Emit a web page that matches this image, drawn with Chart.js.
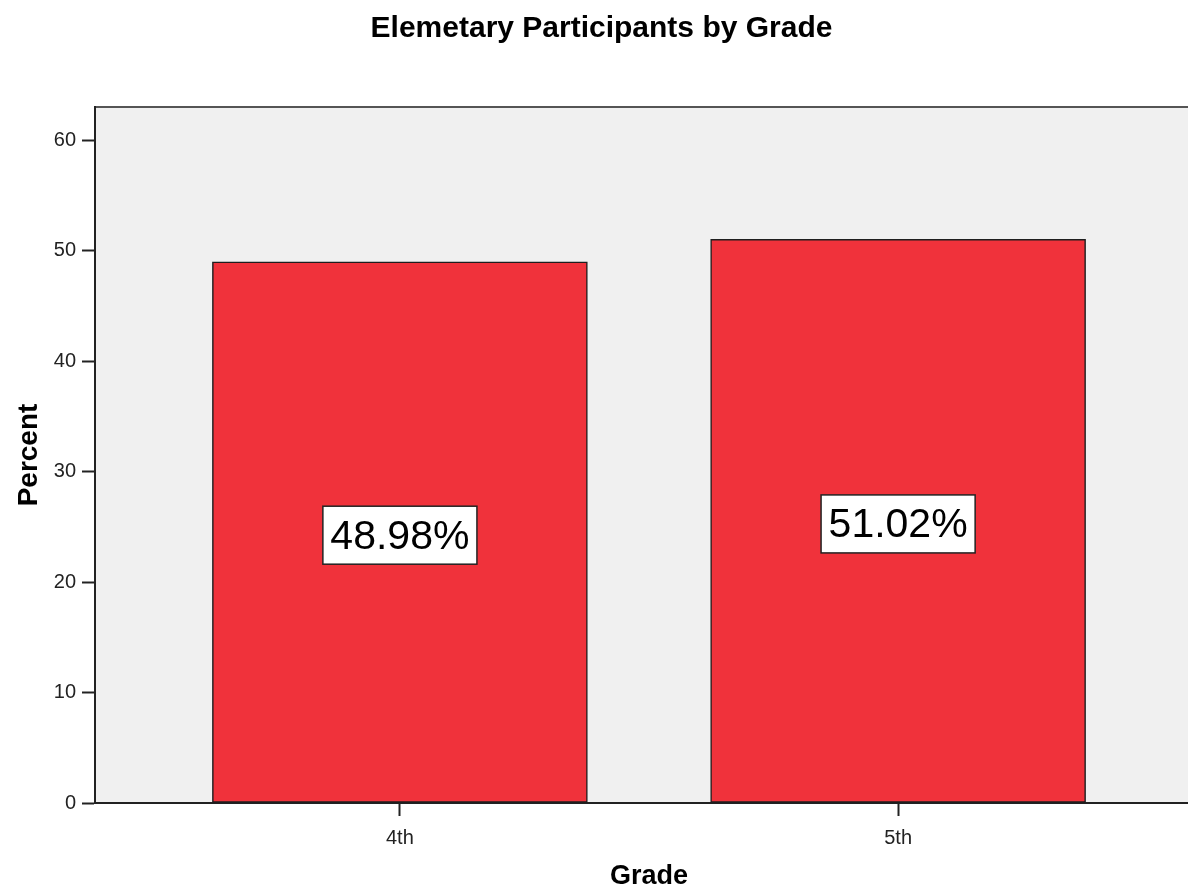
<!DOCTYPE html>
<html>
<head>
<meta charset="utf-8">
<title>Elemetary Participants by Grade</title>
<script src="https://cdn.jsdelivr.net/npm/chart.js@4"></script>
<style>
    html, body { margin: 0; padding: 0; background: #fff; overflow: hidden; }
    #chart { display: block; }
</style>
</head>
<body>
<canvas id="chart" width="1204" height="890"></canvas>
<script>
// Data
const grades = ['4th', '5th'];
const percents = [48.98, 51.02];
const yTicks = [0, 10, 20, 30, 40, 50, 60];

const FONT = '"Liberation Sans", Arial, sans-serif';

// Grey plot background with a top border, like the SPSS output
const plotBackground = {
    id: 'plotBackground',
    beforeDraw(chart) {
        const { ctx, chartArea } = chart;
        ctx.save();
        ctx.fillStyle = '#f0f0f0';
        ctx.fillRect(chartArea.left, chartArea.top, chartArea.right - chartArea.left, chartArea.bottom - chartArea.top);
        ctx.strokeStyle = '#555';
        ctx.lineWidth = 2;
        ctx.beginPath();
        ctx.moveTo(chartArea.left, chartArea.top);
        ctx.lineTo(chartArea.right, chartArea.top);
        ctx.lineTo(chartArea.right, chartArea.bottom);
        ctx.stroke();
        ctx.restore();
    }
};

// Boxed percentage labels in the middle of each bar
const barLabels = {
    id: 'barLabels',
    afterDatasetsDraw(chart) {
        const { ctx } = chart;
        const meta = chart.getDatasetMeta(0);
        ctx.save();
        ctx.font = '41px ' + FONT;
        ctx.textAlign = 'center';
        ctx.textBaseline = 'middle';
        meta.data.forEach((bar, i) => {
            const text = percents[i].toFixed(2) + '%';
            const w = ctx.measureText(text).width + 15;
            const h = 58;
            const cx = bar.x;
            const cy = (bar.y + bar.base) / 2 + 3;
            ctx.fillStyle = '#fff';
            ctx.fillRect(cx - w / 2, cy - h / 2, w, h);
            ctx.strokeStyle = '#222';
            ctx.lineWidth = 1.5;
            ctx.strokeRect(cx - w / 2, cy - h / 2, w, h);
            ctx.fillStyle = '#000';
            ctx.fillText(text, cx, cy + 2);
        });
        ctx.restore();
    }
};

const ctx = document.getElementById('chart').getContext('2d');
new Chart(ctx, {
    type: 'bar',
    data: {
        datasets: [{
            label: 'Percent',
            data: grades.map((g, i) => ({ x: i + 1, y: percents[i] })),
            backgroundColor: '#f0323b',
            borderColor: '#1e1e1e',
            borderWidth: 1.5,
            borderSkipped: false,
            barThickness: 375
        }]
    },
    options: {
        responsive: false,
        animation: false,
        layout: { padding: { left: 0, right: 1, top: 0, bottom: 0 } },
        plugins: {
            legend: { display: false },
            tooltip: { enabled: false },
            title: {
                display: true,
                text: 'Elemetary Participants by Grade',
                color: '#000',
                font: { family: FONT, size: 30, weight: 'bold' },
                padding: { top: 11, bottom: 60 }
            }
        },
        scales: {
            x: {
                type: 'linear',
                min: 0.388,
                max: 2.612,
                offset: false,
                afterBuildTicks(scale) {
                    scale.ticks = grades.map((g, i) => ({ value: i + 1 }));
                },
                afterFit(scale) { scale.height = 87; },
                ticks: {
                    color: '#222',
                    font: { family: FONT, size: 20 },
                    padding: 10,
                    callback: (v) => grades[v - 1]
                },
                grid: {
                    offset: false,
                    drawOnChartArea: false,
                    drawTicks: true,
                    tickLength: 13,
                    tickColor: '#222',
                    tickWidth: 2
                },
                border: { display: true, color: '#222', width: 2 },
                title: {
                    display: true,
                    text: 'Grade',
                    color: '#000',
                    font: { family: FONT, size: 27, weight: 'bold', lineHeight: 1 },
                    padding: { top: 0, bottom: 0 }
                }
            },
            y: {
                min: 0,
                max: 63,
                afterBuildTicks(scale) {
                    scale.ticks = yTicks.map(v => ({ value: v }));
                },
                afterFit(scale) { scale.width = 95; },
                ticks: {
                    color: '#222',
                    font: { family: FONT, size: 20 },
                    padding: 6
                },
                grid: {
                    drawOnChartArea: false,
                    drawTicks: true,
                    tickLength: 13,
                    tickColor: '#222',
                    tickWidth: 2
                },
                border: { display: true, color: '#222', width: 2 },
                title: {
                    display: true,
                    text: 'Percent',
                    color: '#000',
                    font: { family: FONT, size: 28, weight: 'bold', lineHeight: 1.2 },
                    padding: { top: 12, bottom: 0 }
                }
            }
        }
    },
    plugins: [plotBackground, barLabels]
});
</script>
</body>
</html>
